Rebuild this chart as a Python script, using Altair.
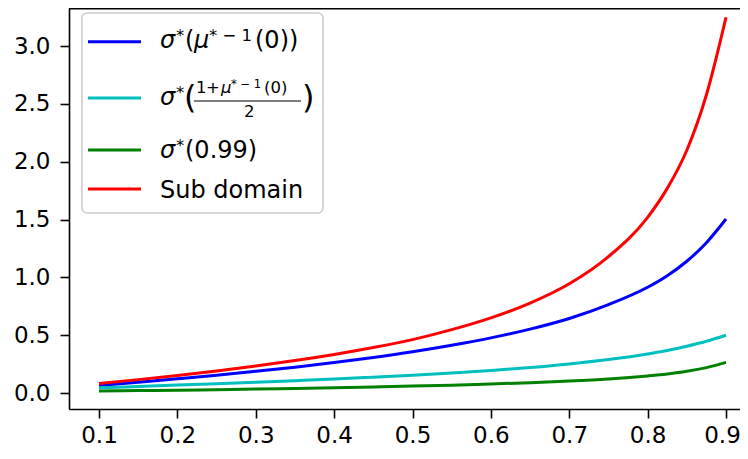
import altair as alt
import pandas as pd

# ---------------- data ----------------
x_vals = [0.1, 0.15, 0.2, 0.25, 0.3, 0.35, 0.4, 0.45, 0.5, 0.55, 0.6, 0.65,
          0.7, 0.75, 0.8, 0.825, 0.85, 0.875, 0.9]
blue_vals = [0.065, 0.093, 0.123, 0.154, 0.188, 0.224, 0.264, 0.308, 0.357, 0.413,
             0.477, 0.553, 0.645, 0.765, 0.915, 1.015, 1.14, 1.3, 1.505]
cyan_vals = [0.045, 0.057, 0.069, 0.081, 0.094, 0.107, 0.121, 0.137, 0.154, 0.173,
             0.195, 0.221, 0.252, 0.29, 0.338, 0.368, 0.405, 0.448, 0.5]
green_vals = [0.018, 0.021, 0.025, 0.029, 0.034, 0.039, 0.045, 0.052, 0.06, 0.068,
              0.078, 0.09, 0.104, 0.122, 0.148, 0.165, 0.188, 0.22, 0.265]
red_vals = [0.082, 0.116, 0.152, 0.191, 0.234, 0.281, 0.334, 0.394, 0.462, 0.548,
            0.65, 0.778, 0.945, 1.18, 1.52, 1.77, 2.1, 2.58, 3.25]

series_fields = ["blue", "cyan", "green", "red"]
series_colors = ["#0000ff", "#00bfbf", "#008000", "#ff0000"]
x_ticks = [0.1, 0.2, 0.3, 0.4, 0.5, 0.6, 0.7, 0.8, 0.9]
y_ticks = [0.0, 0.5, 1.0, 1.5, 2.0, 2.5, 3.0]

df = pd.DataFrame({"x": x_vals, "blue": blue_vals, "cyan": cyan_vals,
                   "green": green_vals, "red": red_vals})
one = pd.DataFrame({"k": [0]})

# ---------------- layout ----------------
W, H = 671, 401
PX, PY = 69, 8          # page offset of plot origin
FONT = "DejaVu Sans"
LFS = 24                # legend font size
TFS = 23                # tick font size
x_scale = alt.Scale(domain=[0.0617, 0.0617 + W / 783.75], nice=False, zero=False)
y_scale = alt.Scale(domain=[-0.138, 3.330], nice=False, zero=False)

x_axis = alt.Axis(values=x_ticks, format=".1f", title=None, grid=False,
                  labelFont=FONT, labelFontSize=TFS, labelColor="black",
                  labelPadding=6, tickSize=9, tickWidth=1.6, tickColor="black",
                  domainColor="black", domainWidth=1.6, labelFlush=False,
                  labelOffset={"condition": {"test": "datum.value > 0.85", "value": -4},
                               "value": 0})
y_axis = alt.Axis(values=y_ticks, format=".1f", title=None, grid=False,
                  labelFont=FONT, labelFontSize=TFS, labelColor="black",
                  labelPadding=10, tickSize=9, tickWidth=1.6, tickColor="black",
                  domainColor="black", domainWidth=1.6, labelFlush=False)

layers = []
for fld, col in zip(series_fields, series_colors):
    layers.append(
        alt.Chart(df).mark_line(color=col, strokeWidth=3, interpolate="monotone").encode(
            x=alt.X("x:Q", scale=x_scale, axis=x_axis),
            y=alt.Y(f"{fld}:Q", scale=y_scale, axis=y_axis),
        )
    )

# top spine
layers.append(alt.Chart(one).mark_rule(color="black", strokeWidth=1.6).encode(
    x=alt.value(0), x2=alt.value(W), y=alt.value(0.8)))

# legend frame
layers.append(alt.Chart(one).mark_rect(fill="white", fillOpacity=0.8, stroke="#cccccc",
                                       strokeWidth=1.6, cornerRadius=5).encode(
    x=alt.value(82 - PX), x2=alt.value(323 - PX), y=alt.value(13 - PY), y2=alt.value(213 - PY)))

# legend handles
handle_y = [41.7, 98, 150, 189]
for hy, col in zip(handle_y, series_colors):
    layers.append(alt.Chart(one).mark_rule(color=col, strokeWidth=3).encode(
        x=alt.value(88 - PX), x2=alt.value(141 - PX), y=alt.value(hy - PY)))


def piece(text, px, py, size, italic=False):
    return alt.Chart(one).mark_text(
        text=text, align="left", baseline="alphabetic", font=FONT, fontSize=size,
        fontStyle="italic" if italic else "normal", color="black").encode(
        x=alt.value(px - PX), y=alt.value(py - PY))


SUP = 16.5
# row 1: sigma*(mu*-1(0))
layers += [piece("σ", 160, 48, LFS, True), piece("*", 176, 41, SUP),
           piece("(", 185, 48, LFS), piece("μ", 194, 48, LFS, True),
           piece("* − 1", 209, 41, SUP), piece("(0))", 255, 48, LFS)]
# row 2: sigma*((1+mu*-1(0))/2)
layers += [piece("σ", 160, 105, LFS, True), piece("*", 176, 98, SUP),
           piece("(", 184, 108, 32),
           piece("1", 196, 93, SUP), piece("+", 206, 93, SUP),
           piece("μ", 221, 93, SUP, True), piece("* − 1", 231, 88, 11.5),
           piece("(0)", 264, 93, SUP),
           piece("2", 244, 117, SUP), piece(")", 302, 108, 32)]
layers.append(alt.Chart(one).mark_rule(color="black", strokeWidth=1.2).encode(
    x=alt.value(194 - PX), x2=alt.value(301 - PX), y=alt.value(101 - PY)))
# row 3: sigma*(0.99)
layers += [piece("σ", 160, 158, LFS, True), piece("*", 176, 151, SUP),
           piece("(0.99)", 185, 158, LFS)]
# row 4
layers.append(piece("Sub domain", 160, 198, LFS))

chart = alt.layer(*layers).properties(
    width=W, height=H,
    autosize=alt.AutoSizeParams(type="none"),
    padding={"left": 61, "top": 0, "right": 0, "bottom": 39},
    background="white",
).configure_view(stroke=None)

chart.save("out.html", embed_options={"renderer": "svg", "actions": False})
